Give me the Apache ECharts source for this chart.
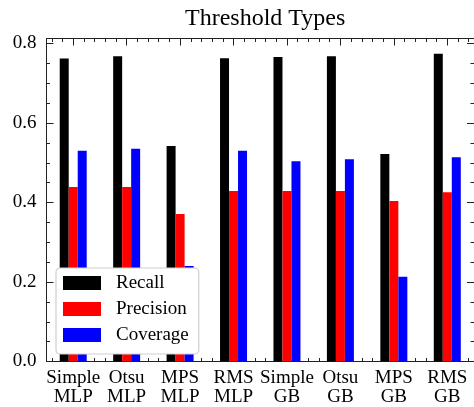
<!DOCTYPE html>
<html>
<head>
<meta charset="utf-8">
<script src="https://cdn.jsdelivr.net/npm/echarts@6/dist/echarts.min.js"></script>
<style>
html,body{margin:0;padding:0;background:#fff;}
#chart{width:474px;height:407px;}
</style>
</head>
<body>
<div id="chart"></div>
<script>
const categories = ['Simple\nMLP', 'Otsu\nMLP', 'MPS\nMLP', 'RMS\nMLP', 'Simple\nGB', 'Otsu\nGB', 'MPS\nGB', 'RMS\nGB'];
const recall = [0.762, 0.768, 0.542, 0.763, 0.766, 0.768, 0.522, 0.774];
const precision = [0.439, 0.439, 0.371, 0.429, 0.429, 0.429, 0.404, 0.426];
const coverage = [0.530, 0.535, 0.240, 0.530, 0.504, 0.509, 0.213, 0.514];
const yMajorTicks = [0, 0.2, 0.4, 0.6, 0.8];
const yMinorTicks = [0.05, 0.1, 0.15, 0.25, 0.3, 0.35, 0.45, 0.5, 0.55, 0.65, 0.7, 0.75];
const xMinorTicks = [];
for (let k = 0; k < 40; k++) xMinorTicks.push(+(-0.4 + 0.2 * k).toFixed(2));

const FONT = 'Liberation Serif';
const SPINE = '#222';
const yMax = 0.8126;

const chart = echarts.init(document.getElementById('chart'), null, {renderer: 'canvas'});

const majorTick = {show: true, inside: true, length: 7, lineStyle: {color: SPINE, width: 1}};
const minorTickStyle = {show: true, inside: true, length: 3.5, lineStyle: {color: SPINE, width: 1}};
const spine = {show: true, onZero: false, lineStyle: {color: SPINE, width: 1}};
const noSpine = {show: false, onZero: false};

chart.setOption({
  animation: false,
  backgroundColor: '#fff',
  title: {
    text: 'Threshold Types',
    left: 180, top: 2,
    textStyle: {fontFamily: FONT, fontSize: 24, fontWeight: 'normal', color: '#000'}
  },
  grid: {left: 46.5, top: 38.5, width: 430, height: 323, containLabel: false},
  legend: {
    orient: 'vertical',
    left: 56, top: 268,
    data: ['Recall', 'Precision', 'Coverage'],
    icon: 'rect',
    itemWidth: 38, itemHeight: 14, itemGap: 6,
    padding: [5, 10, 9, 7],
    backgroundColor: '#fff',
    borderColor: '#cfcfcf', borderWidth: 1.2, borderRadius: 4,
    textStyle: {fontFamily: FONT, fontSize: 19, color: '#000', lineHeight: 20, padding: [0, 0, 0, 10]}
  },
  xAxis: [
    {type: 'category', data: categories, position: 'bottom', gridIndex: 0,
     axisLine: spine,
     axisTick: Object.assign({alignWithLabel: true}, majorTick),
     axisLabel: {fontFamily: FONT, fontSize: 19, color: '#000', lineHeight: 19, margin: 7, interval: 0},
     splitLine: {show: false}},
    {type: 'category', data: categories, position: 'top', gridIndex: 0,
     axisLine: spine,
     axisTick: Object.assign({alignWithLabel: true}, majorTick),
     axisLabel: {show: false}, splitLine: {show: false}},
    {type: 'value', min: -0.5, max: 7.5, position: 'bottom', gridIndex: 0,
     axisLine: noSpine,
     axisTick: Object.assign({customValues: xMinorTicks}, minorTickStyle),
     axisLabel: {show: false}, splitLine: {show: false}},
    {type: 'value', min: -0.5, max: 7.5, position: 'top', gridIndex: 0,
     axisLine: noSpine,
     axisTick: Object.assign({customValues: xMinorTicks}, minorTickStyle),
     axisLabel: {show: false}, splitLine: {show: false}}
  ],
  yAxis: [
    {type: 'value', min: 0, max: yMax, position: 'left',
     axisLine: spine,
     axisTick: Object.assign({customValues: yMajorTicks}, majorTick),
     axisLabel: {customValues: yMajorTicks, fontFamily: FONT, fontSize: 19, color: '#000', margin: 10,
                 formatter: v => v.toFixed(1)},
     splitLine: {show: false}},
    {type: 'value', min: 0, max: yMax, position: 'right',
     axisLine: spine,
     axisTick: Object.assign({customValues: yMajorTicks}, majorTick),
     axisLabel: {show: false}, splitLine: {show: false}},
    {type: 'value', min: 0, max: yMax, position: 'left',
     axisLine: noSpine,
     axisTick: Object.assign({customValues: yMinorTicks}, minorTickStyle),
     axisLabel: {show: false}, splitLine: {show: false}},
    {type: 'value', min: 0, max: yMax, position: 'right',
     axisLine: noSpine,
     axisTick: Object.assign({customValues: yMinorTicks}, minorTickStyle),
     axisLabel: {show: false}, splitLine: {show: false}}
  ],
  series: [
    {name: 'Recall', type: 'bar', xAxisIndex: 0, yAxisIndex: 0, data: recall,
     barWidth: 9, barGap: '0%', itemStyle: {color: '#000000'}},
    {name: 'Precision', type: 'bar', xAxisIndex: 0, yAxisIndex: 0, data: precision,
     barWidth: 9, barGap: '0%', itemStyle: {color: '#ff0000'}},
    {name: 'Coverage', type: 'bar', xAxisIndex: 0, yAxisIndex: 0, data: coverage,
     barWidth: 9, barGap: '0%', itemStyle: {color: '#0000ff'}}
  ]
});
</script>
</body>
</html>
